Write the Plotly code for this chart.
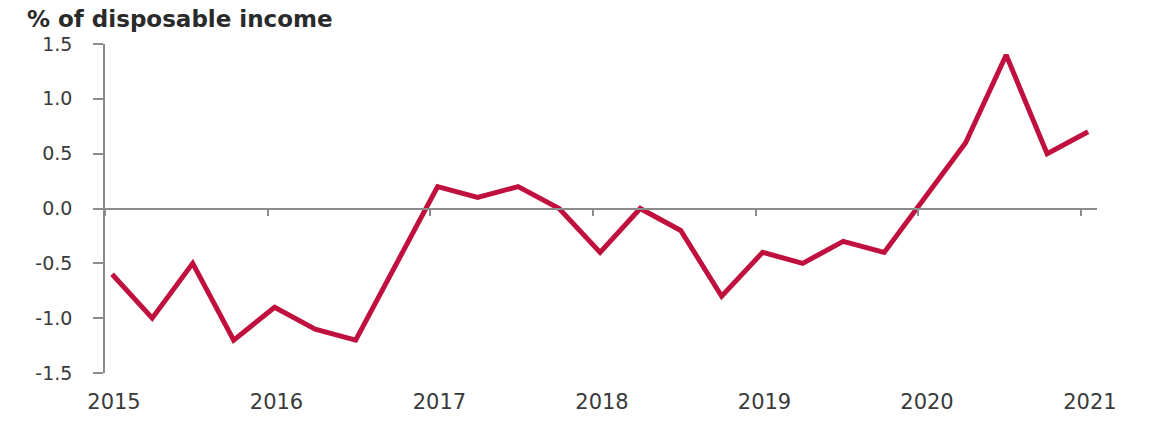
import pandas as pd
import plotly.graph_objects as go

# Quarterly observations, 2015 Q1 to 2021 Q1
quarters = [str(p) for p in pd.period_range("2015Q1", "2021Q1", freq="Q")]
values = [-0.6, -1.0, -0.5, -1.2,
          -0.9, -1.1, -1.2, -0.5,
          0.2, 0.1, 0.2, 0.0,
          -0.4, 0.0, -0.2, -0.8,
          -0.4, -0.5, -0.3, -0.4,
          0.1, 0.6, 1.4, 0.5,
          0.7]
years = [2015, 2016, 2017, 2018, 2019, 2020, 2021]
y_ticks = [-1.5, -1.0, -0.5, 0.0, 0.5, 1.0, 1.5]

# plot each quarter a couple of weeks into its first month
dates = [pd.Period(q, freq="Q").start_time + pd.Timedelta(days=16) for q in quarters]
year_starts = [f"{y}-01-01" for y in years]
x_range = ["2015-01-01", "2021-02-06"]

LINE = "#c0103e"
AXIS = "#8c8c8c"
TEXT = "#3a3a3a"
FONT = "DejaVu Sans"

fig = go.Figure()
fig.add_trace(go.Scatter(
    x=dates, y=values, mode="lines",
    line=dict(color=LINE, width=5),
    showlegend=False, hoverinfo="x+y",
))
# empty trace so the zero-line axis (x2) gets its own subplot and is drawn
fig.add_trace(go.Scatter(
    x=[], y=[], xaxis="x2", yaxis="y",
    mode="lines", showlegend=False, hoverinfo="skip",
))

fig.update_layout(
    width=1156, height=421,
    margin=dict(l=105, r=59, t=44, b=48),
    paper_bgcolor="white", plot_bgcolor="white",
    font=dict(family=FONT, color=TEXT),
    xaxis=dict(
        type="date", range=x_range,
        tickvals=year_starts, ticktext=[str(y) for y in years],
        ticks="", showline=False, showgrid=False, zeroline=False,
        tickfont=dict(size=21, color=TEXT),
        ticklabelshift=9, ticklabelstandoff=14, automargin=False,
    ),
    # zero line with year ticks hanging below it
    xaxis2=dict(
        type="date", range=x_range, overlaying="x", anchor="free",
        position=(0 - y_ticks[0]) / (y_ticks[-1] - y_ticks[0]),
        side="bottom", showline=True, linecolor=AXIS, linewidth=1.5,
        ticks="outside", ticklen=7, tickwidth=1.5, tickcolor=AXIS,
        tickvals=year_starts, showticklabels=False, showgrid=False,
        zeroline=False, automargin=False,
    ),
    yaxis=dict(
        range=[y_ticks[0], y_ticks[-1]],
        tickvals=y_ticks, ticktext=[f"{v:.1f}" for v in y_ticks],
        showline=True, linecolor=AXIS, linewidth=1.5,
        ticks="outside", ticklen=10, tickwidth=1.5, tickcolor=AXIS,
        showgrid=False, zeroline=False,
        tickfont=dict(size=19, color=TEXT),
        ticklabelstandoff=17, automargin=False,
    ),
)

fig.add_annotation(
    text="<b>% of disposable income</b>",
    xref="paper", yref="paper",
    x=(25 - 105) / 992, y=(373 - 19) / 329,
    xanchor="left", yanchor="middle", showarrow=False,
    font=dict(family=FONT, size=23, color="#2a2a2a"),
)

fig.write_html("out.html")
